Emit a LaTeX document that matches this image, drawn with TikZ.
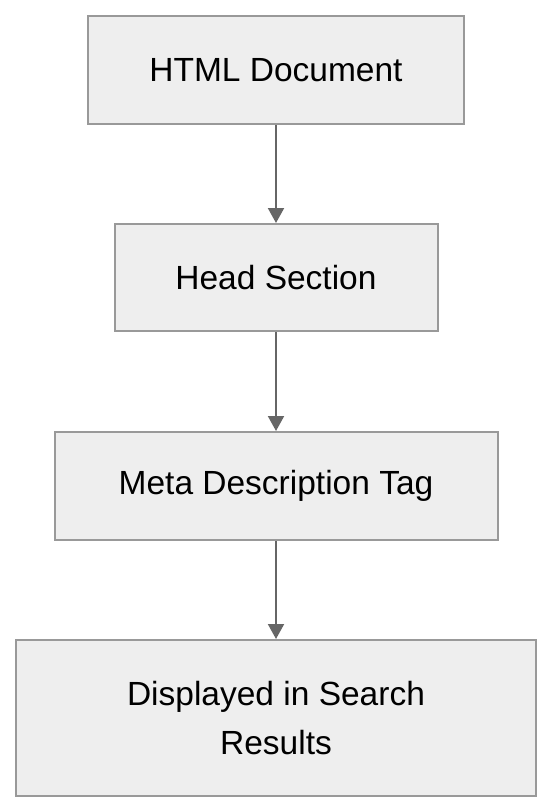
\documentclass[tikz,border=0pt]{standalone}
\usepackage{fontspec}
\setmainfont{Liberation Sans}
\usetikzlibrary{arrows.meta}
\definecolor{boxfill}{HTML}{EEEEEE}
\definecolor{boxline}{HTML}{999999}
\definecolor{arrowc}{HTML}{666666}
\begin{document}
\begin{tikzpicture}[x=1pt,y=-1pt,
  stepbox/.style={draw=boxline, fill=boxfill, line width=2pt, inner sep=0pt,
    align=center, font=\fontsize{33.5}{49}\selectfont},
  flow/.style={draw=arrowc, line width=2pt, -{Triangle[length=15pt,width=16pt]}}]
\useasboundingbox (0,0) rectangle (552,812);
\node[stepbox, minimum width=376pt, minimum height=108pt] (a) at (276,70) {HTML Document};
\node[stepbox, minimum width=323pt, minimum height=107pt] (b) at (276,277.5) {Head Section};
\node[stepbox, minimum width=443pt, minimum height=108pt] (c) at (276,486) {Meta Description Tag};
\node[stepbox, minimum width=520pt, minimum height=156pt] (d) at (276,718) {Displayed in Search\\Results};
\draw[flow] (a) -- (b);
\draw[flow] (b) -- (c);
\draw[flow] (c) -- (d);
\end{tikzpicture}
\end{document}
